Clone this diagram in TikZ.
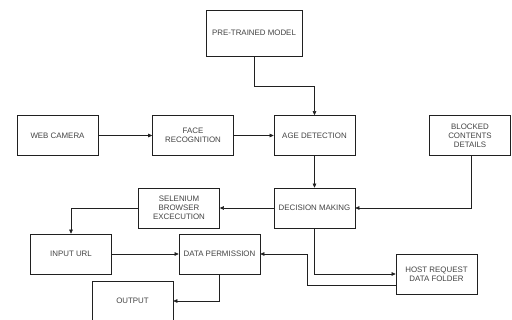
\documentclass[tikz,border=0pt]{standalone}
\usepackage{fontspec}
\setmainfont{Liberation Sans}
\usetikzlibrary{arrows.meta}
\definecolor{txt}{HTML}{444444}
\definecolor{ln}{HTML}{202020}
\begin{document}
\begin{tikzpicture}[x=1pt,y=-1pt,
  box/.style={draw=ln,line width=0.7pt,fill=white,minimum width=81pt,minimum height=40pt,
    inner sep=1pt,align=center,font=\fontsize{7.9}{9}\selectfont,text=txt},
  conn/.style={draw=ln,line width=0.6pt,-{Triangle[length=4pt,width=3.6pt]}}]
\clip (0,0) rectangle (512,320);
\fill[white] (0,0) rectangle (512,320);
\node[box,minimum width=96pt,minimum height=46pt] (ptm) at (254,33) {PRE-TRAINED MODEL};
\node[box] (web) at (57.5,135.5) {WEB CAMERA};
\node[box] (face) at (193,135.5) {FACE\\RECOGNITION};
\node[box] (age) at (314.5,135.5) {AGE DETECTION};
\node[box] (blk) at (470,135.5) {BLOCKED\\CONTENTS\\DETAILS};
\node[box] (dec) at (314.5,208) {DECISION MAKING};
\node[box] (sel) at (179,208) {SELENIUM\\BROWSER\\EXCECUTION};
\node[box] (url) at (71,254) {INPUT URL};
\node[box] (dp) at (219.5,254) {DATA PERMISSION};
\node[box] (out) at (132.5,301) {OUTPUT};
\node[box] (host) at (436.5,274) {HOST REQUEST\\DATA FOLDER};
\coordinate (c1) at (254,86);
\coordinate (c2) at (314.5,86);
\draw[conn] (ptm.south) -- (c1) -- (c2) -- (age.north);
\draw[conn] (web) -- (face);
\draw[conn] (face) -- (age);
\draw[conn] (age) -- (dec);
\draw[conn] (blk.south -| 471,0) |- (dec.east);
\draw[conn] (dec) -- (sel);
\draw[conn] (sel.west) -| (url.north);
\draw[conn] (url) -- (dp);
\draw[conn] (dp.south) |- (out.east);
\draw[conn] (dec.south) |- (host.west);
\coordinate (c3) at (307,285);
\draw[conn] (host.west |- c3) -- (c3) |- (dp.east);
\end{tikzpicture}
\end{document}
